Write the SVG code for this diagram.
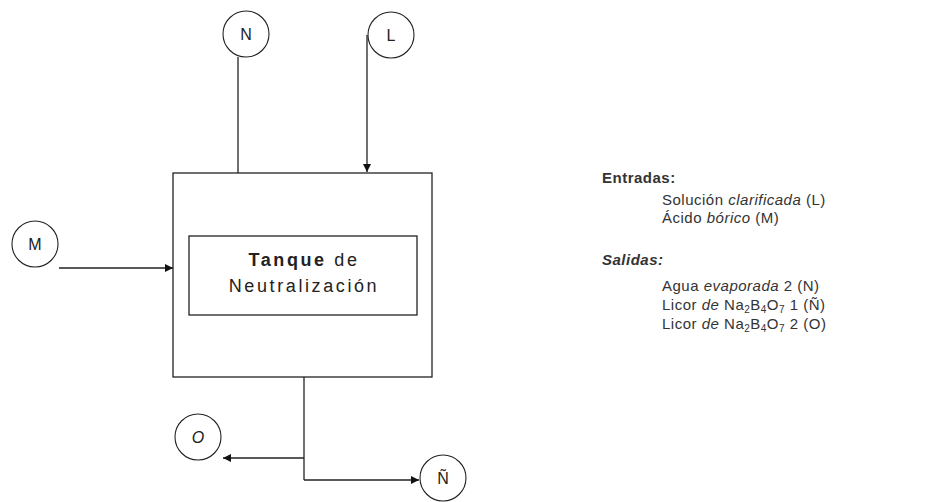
<svg xmlns="http://www.w3.org/2000/svg" width="938" height="502" viewBox="0 0 938 502">
<defs>
<style>
.ln{stroke:#222;stroke-width:1.3;fill:none}
.cir{stroke:#222;stroke-width:1.1;fill:#fff}
.lbl{font-family:"Liberation Sans",Arial,sans-serif;font-size:16px;fill:#222;text-anchor:middle}
.tk{font-family:"Liberation Sans",Arial,sans-serif;font-size:18px;fill:#222;text-anchor:middle;letter-spacing:2.6px}
.txt{font-family:"Liberation Sans",Arial,sans-serif;font-size:15px;fill:#333;letter-spacing:0.5px}
.sub{font-size:10px}
</style>
<marker id="ah" viewBox="0 0 10 10" refX="10" refY="5" markerWidth="8" markerHeight="8" markerUnits="userSpaceOnUse" orient="auto">
<path d="M0,0 L10,5 L0,10 z" fill="#111"/>
</marker>
</defs>
<rect width="938" height="502" fill="#fff"/>
<g id="connectors">
<path class="ln" d="M238,57 V173"/>
<path class="ln" d="M367,35 V172" marker-end="url(#ah)"/>
<path class="ln" d="M59,268 H173" marker-end="url(#ah)"/>
<path class="ln" d="M304,377 V480"/>
<path class="ln" d="M304,458 H223" marker-end="url(#ah)"/>
<path class="ln" d="M304,480 H419" marker-end="url(#ah)"/>
</g>
<g id="tank">
<rect class="ln" x="173" y="173" width="259" height="204"/>
<rect class="ln" x="189" y="236" width="228" height="79"/>
<text class="tk" x="304" y="266"><tspan font-weight="bold">Tanque</tspan> de</text>
<text class="tk" x="304" y="292">Neutralización</text>
</g>
<g id="node-N">
<circle class="cir" cx="246" cy="34" r="23"/>
<text class="lbl" x="246" y="40">N</text>
</g>
<g id="node-L">
<circle class="cir" cx="391" cy="35" r="23"/>
<text class="lbl" x="391" y="41">L</text>
</g>
<g id="node-M">
<circle class="cir" cx="35" cy="244" r="23"/>
<text class="lbl" x="35" y="250">M</text>
</g>
<g id="node-O">
<circle class="cir" cx="198" cy="437" r="23"/>
<text class="lbl" x="198" y="443" font-style="italic">O</text>
</g>
<g id="node-Ntilde">
<circle class="cir" cx="443" cy="478" r="23"/>
<text class="lbl" x="443" y="484">Ñ</text>
</g>
<g id="legend">
<text class="txt" x="602" y="183" font-weight="bold">Entradas:</text>
<text class="txt" x="662" y="205">Solución <tspan font-style="italic">clarificada</tspan> (L)</text>
<text class="txt" x="662" y="223">Ácido <tspan font-style="italic">bórico</tspan> (M)</text>
<text class="txt" x="602" y="265" font-weight="bold" font-style="italic">Salidas:</text>
<text class="txt" x="662" y="291">Agua <tspan font-style="italic">evaporada</tspan> 2 (N)</text>
<text class="txt" x="662" y="310">Licor <tspan font-style="italic">de</tspan> Na<tspan class="sub" dy="3">2</tspan><tspan dy="-3">B</tspan><tspan class="sub" dy="3">4</tspan><tspan dy="-3">O</tspan><tspan class="sub" dy="3">7</tspan><tspan dy="-3"> 1 (Ñ)</tspan></text>
<text class="txt" x="662" y="329">Licor <tspan font-style="italic">de</tspan> Na<tspan class="sub" dy="3">2</tspan><tspan dy="-3">B</tspan><tspan class="sub" dy="3">4</tspan><tspan dy="-3">O</tspan><tspan class="sub" dy="3">7</tspan><tspan dy="-3"> 2 (O)</tspan></text>
</g>
</svg>
